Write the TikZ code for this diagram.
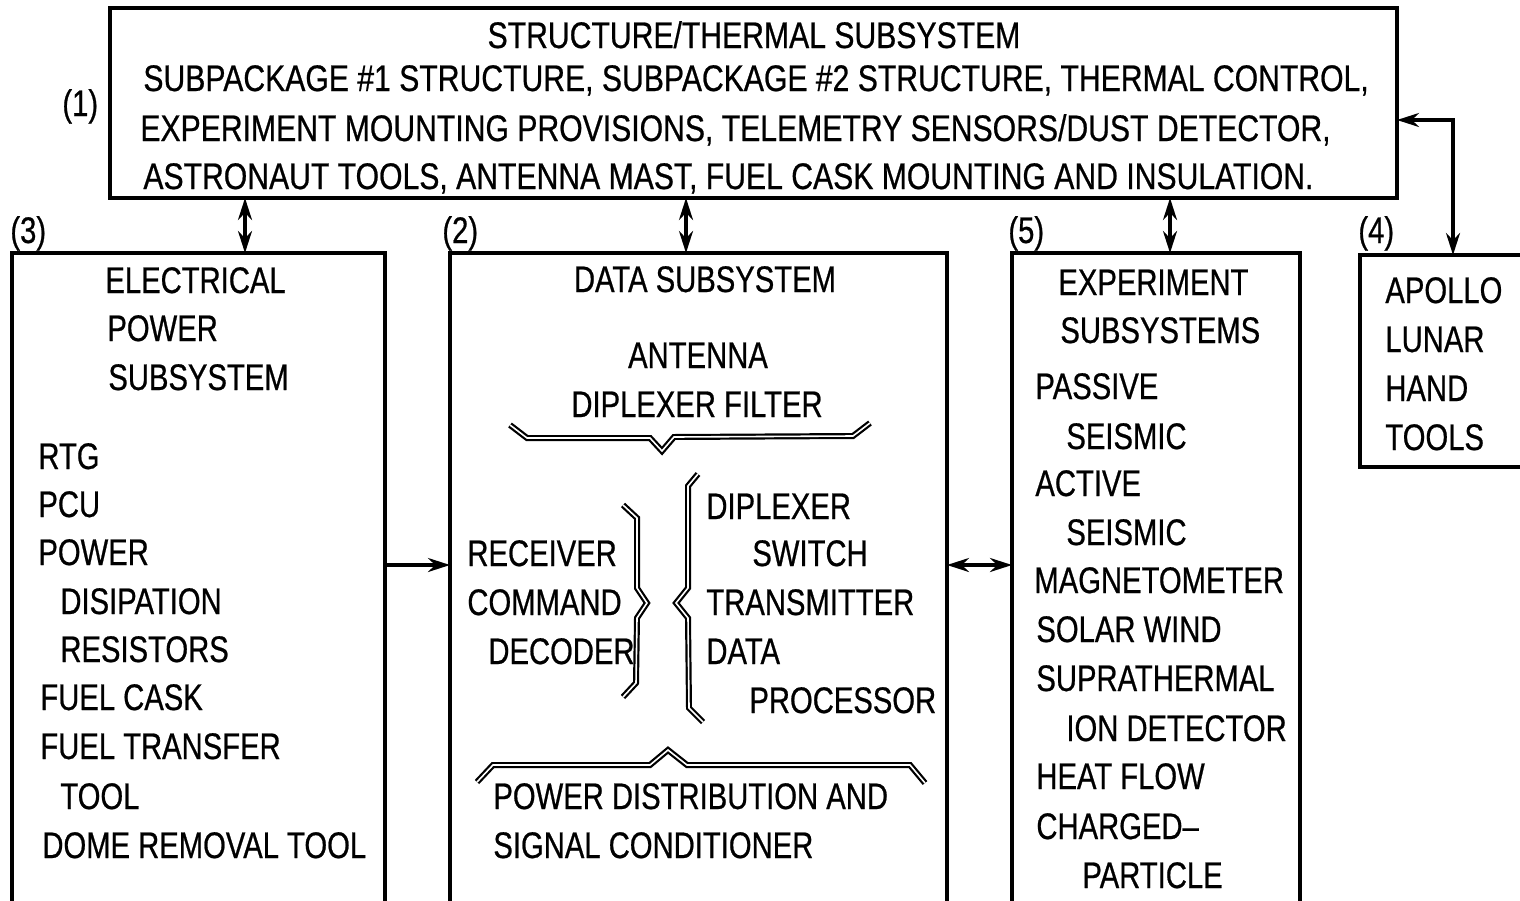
\documentclass[tikz,border=0pt]{standalone}
\usepackage{fontspec}
\setmainfont{Liberation Sans}[FakeStretch=0.79,FakeBold=0.6]
\newfontfamily\topfont{Liberation Sans}[FakeStretch=0.815,FakeBold=0.6]
\usetikzlibrary{arrows.meta}
\begin{document}
\begin{tikzpicture}[x=0.5pt,y=-0.5pt,
  font=\fontsize{18.5}{22}\selectfont,
  >={Stealth[length=11pt,width=7pt]},
  box/.style={draw, line width=2.3pt, inner sep=0pt, outer sep=0pt, rectangle},
  lbl/.style={anchor=base west, inner sep=0pt},
  ctr/.style={anchor=base, inner sep=0pt},
  toptxt/.style={font=\topfont\fontsize{18.5}{22}\selectfont},
  link/.style={line width=1.6pt},
  brc/.style={draw, line width=1.1pt, double, double distance=0.8pt, line join=miter}]
\useasboundingbox (0,0) rectangle (1520,900);

% boxes
\node[box, minimum width=643.5pt, minimum height=95pt] (top) at (753.5,103) {};
\node[box, minimum width=186.5pt, minimum height=333.5pt] (elec) at (198.5,586.5) {};
\node[box, minimum width=248.5pt, minimum height=333.5pt] (data) at (698.5,586.5) {};
\node[box, minimum width=144pt, minimum height=333.5pt] (exp) at (1156,586.5) {};
\node[box, minimum width=110pt, minimum height=106pt] (apollo) at (1470,361) {};

% top box text
\node[ctr, toptxt] (t0) at (754,48) {STRUCTURE/THERMAL SUBSYSTEM};
\node[lbl, toptxt] (t1) at (143,91) {SUBPACKAGE \#1 STRUCTURE, SUBPACKAGE \#2 STRUCTURE, THERMAL CONTROL,};
\node[lbl, toptxt] (t2) at (140,141) {EXPERIMENT MOUNTING PROVISIONS, TELEMETRY SENSORS/DUST DETECTOR,};
\node[lbl, toptxt] (t3) at (143,189) {ASTRONAUT TOOLS, ANTENNA MAST, FUEL CASK MOUNTING AND INSULATION.};

% labels
\node[lbl] (n1) at (62,116) {(1)};
\node[lbl] (n3) at (10,243) {(3)};
\node[lbl] (n2) at (442,243) {(2)};
\node[lbl] (n5) at (1008,243) {(5)};
\node[lbl] (n4) at (1358,243) {(4)};

% electrical
\node[lbl] (e1) at (105,293) {ELECTRICAL};
\node[lbl] (e2) at (107,341) {POWER};
\node[lbl] (e3) at (108,390) {SUBSYSTEM};
\node[lbl] (e4) at (38,469) {RTG};
\node[lbl] (e5) at (38,517) {PCU};
\node[lbl] (e6) at (38,565) {POWER};
\node[lbl] (e7) at (60,614) {DISIPATION};
\node[lbl] (e8) at (60,662) {RESISTORS};
\node[lbl] (e9) at (40,710) {FUEL CASK};
\node[lbl] (e10) at (40,759) {FUEL TRANSFER};
\node[lbl] (e11) at (60,809) {TOOL};
\node[lbl] (e12) at (42,858) {DOME REMOVAL TOOL};

% data
\node[ctr] (d1) at (705,292) {DATA SUBSYSTEM};
\node[ctr] (d2) at (698,368) {ANTENNA};
\node[ctr] (d3) at (697,417) {DIPLEXER FILTER};
\node[lbl] (d4) at (467,566) {RECEIVER};
\node[lbl] (d5) at (467,615) {COMMAND};
\node[lbl] (d6) at (488,664) {DECODER};
\node[lbl] (d7) at (706,519) {DIPLEXER};
\node[lbl] (d8) at (752,566) {SWITCH};
\node[lbl] (d9) at (706,615) {TRANSMITTER};
\node[lbl] (d10) at (706,664) {DATA};
\node[lbl] (d11) at (749,713) {PROCESSOR};
\node[lbl] (d12) at (493,809) {POWER DISTRIBUTION AND};
\node[lbl] (d13) at (493,858) {SIGNAL CONDITIONER};

% braces
\draw[brc] (510,425) -- (527,438) -- (650,438) -- (662,451) -- (674,437) -- (853,436) -- (870,423);
\draw[brc] (477,782) -- (493,765) -- (650,765) -- (668,750) -- (687,765) -- (910,765) -- (925,783);
\draw[brc] (623,505) -- (637,518) -- (637,588) -- (647,603) -- (637,618) -- (636,683) -- (623,697);
\draw[brc] (698,474) -- (688,486) -- (688,588) -- (676,603) -- (688,618) -- (689,708) -- (703,722);

% experiments
\node[lbl] (x1) at (1058,295) {EXPERIMENT};
\node[lbl] (x2) at (1060,343) {SUBSYSTEMS};
\node[lbl] (x3) at (1035,399) {PASSIVE};
\node[lbl] (x4) at (1066,449) {SEISMIC};
\node[lbl] (x5) at (1035,496) {ACTIVE};
\node[lbl] (x6) at (1066,545) {SEISMIC};
\node[lbl] (x7) at (1034,593) {MAGNETOMETER};
\node[lbl] (x8) at (1036,642) {SOLAR WIND};
\node[lbl] (x9) at (1036,691) {SUPRATHERMAL};
\node[lbl] (x10) at (1066,741) {ION DETECTOR};
\node[lbl] (x11) at (1036,789) {HEAT FLOW};
\node[lbl] (x12) at (1036,839) {CHARGED--};
\node[lbl] (x13) at (1082,888) {PARTICLE};

% apollo
\node[lbl] (a1) at (1385,303) {APOLLO};
\node[lbl] (a2) at (1385,352) {LUNAR};
\node[lbl] (a3) at (1385,401) {HAND};
\node[lbl] (a4) at (1385,450) {TOOLS};

% connectors
\coordinate (c1) at (245,0);
\coordinate (c2) at (686,0);
\coordinate (c3) at (1170,0);
\coordinate (h1) at (0,565);
\coordinate (ap) at (1453,120);
\draw[link, <->] (c1 |- top.south) -- (c1 |- elec.north);
\draw[link, <->] (c2 |- top.south) -- (c2 |- data.north);
\draw[link, <->] (c3 |- top.south) -- (c3 |- exp.north);
\draw[link, ->] (h1 -| elec.east) -- (h1 -| data.west);
\draw[link, <->] (h1 -| data.east) -- (h1 -| exp.west);
\draw[link, <->] (ap -| top.east) -| (ap |- apollo.north);
\end{tikzpicture}
\end{document}
